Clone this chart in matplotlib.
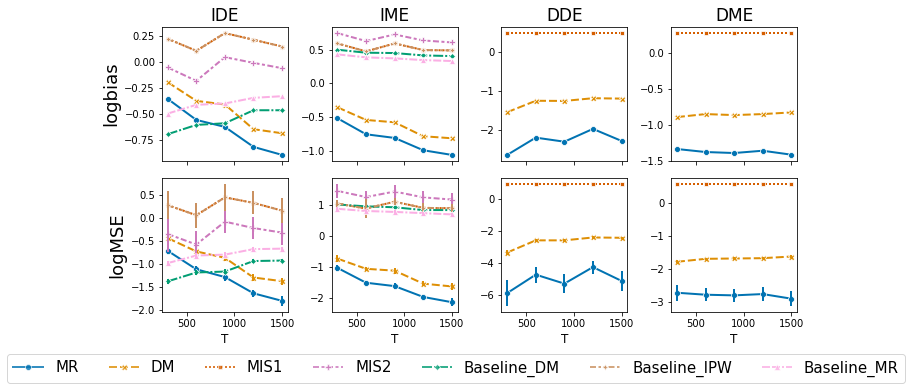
import matplotlib
matplotlib.use("Agg")
import matplotlib.pyplot as plt
from matplotlib.lines import Line2D

T = [300, 600, 900, 1200, 1500]
methods = ["MR", "DM", "MIS1", "MIS2", "Baseline_DM", "Baseline_IPW", "Baseline_MR"]
colors = ["#0173b2", "#de8f05", "#d55e00", "#cc78bc", "#029e73", "#ca9161", "#fbafe4"]
markers = ["o", "X", (4, 0, 45), "P", (4, 0, 0), (4, 1, 0), "^"]
dashes = [(), (4, 1.5), (1, 1), (3, 1.25, 1.5, 1.25), (5, 1, 1, 1),
          (3, 1.25, 1.25, 1.25, 1.25, 1.25), (4, 1, 4, 1, 1, 1)]

titles = ["IDE", "IME", "DDE", "DME"]
row_labels = ["logbias", "logMSE"]

# ---- logbias (means) ----
IDE_bias = {
    "MR": [-0.356, -0.558, -0.625, -0.817, -0.894],
    "DM": [-0.196, -0.375, -0.41, -0.647, -0.686],
    "MIS1": [0.221, 0.106, 0.276, 0.212, 0.147],
    "MIS2": [-0.054, -0.183, 0.045, -0.01, -0.061],
    "Baseline_DM": [-0.695, -0.606, -0.59, -0.465, -0.465],
    "Baseline_IPW": [0.221, 0.106, 0.276, 0.212, 0.147],
    "Baseline_MR": [-0.497, -0.413, -0.40, -0.346, -0.33],
}
IME_bias = {
    "MR": [-0.516, -0.753, -0.807, -0.989, -1.058],
    "DM": [-0.354, -0.541, -0.576, -0.782, -0.812],
    "MIS1": [0.59, 0.472, 0.59, 0.492, 0.487],
    "MIS2": [0.743, 0.625, 0.723, 0.634, 0.605],
    "Baseline_DM": [0.497, 0.453, 0.448, 0.413, 0.403],
    "Baseline_IPW": [0.59, 0.472, 0.59, 0.492, 0.487],
    "Baseline_MR": [0.428, 0.384, 0.369, 0.344, 0.33],
}
DDE_bias = {
    "MR": [-2.65, -2.205, -2.31, -1.98, -2.29],
    "DM": [-1.55, -1.256, -1.26, -1.19, -1.20],
    "MIS1": [0.487, 0.487, 0.487, 0.487, 0.487],
}
DME_bias = {
    "MR": [-1.333, -1.375, -1.389, -1.357, -1.412],
    "DM": [-0.889, -0.847, -0.861, -0.847, -0.824],
    "MIS1": [0.28, 0.28, 0.28, 0.28, 0.28],
}

# ---- logMSE (means) ----
IDE_mse = {
    "MR": [-0.717, -1.12, -1.29, -1.645, -1.81],
    "DM": [-0.44, -0.73, -0.87, -1.30, -1.38],
    "MIS1": [0.28, 0.06, 0.45, 0.33, 0.16],
    "MIS2": [-0.35, -0.58, -0.08, -0.22, -0.32],
    "Baseline_DM": [-1.384, -1.19, -1.17, -0.94, -0.93],
    "Baseline_IPW": [0.28, 0.06, 0.45, 0.33, 0.16],
    "Baseline_MR": [-0.985, -0.82, -0.80, -0.68, -0.67],
}
IME_mse = {
    "MR": [-1.04, -1.52, -1.63, -1.98, -2.15],
    "DM": [-0.74, -1.07, -1.13, -1.55, -1.64],
    "MIS1": [1.04, 0.88, 1.10, 0.90, 0.89],
    "MIS2": [1.45, 1.25, 1.43, 1.24, 1.17],
    "Baseline_DM": [1.01, 0.95, 0.92, 0.83, 0.83],
    "Baseline_IPW": [1.04, 0.88, 1.10, 0.90, 0.89],
    "Baseline_MR": [0.87, 0.80, 0.77, 0.73, 0.69],
}
DDE_mse = {
    "MR": [-5.86, -4.71, -5.27, -4.24, -5.10],
    "DM": [-3.33, -2.57, -2.57, -2.39, -2.41],
    "MIS1": [0.92, 0.92, 0.92, 0.92, 0.92],
}
DME_mse = {
    "MR": [-2.73, -2.79, -2.81, -2.77, -2.91],
    "DM": [-1.79, -1.70, -1.69, -1.68, -1.63],
    "MIS1": [0.56, 0.56, 0.56, 0.56, 0.56],
}

# ---- logMSE error bar half-widths ----
IDE_mse_err = {
    "MR": [0.08, 0.07, 0.08, 0.08, 0.11],
    "DM": [0.07, 0.06, 0.07, 0.07, 0.08],
    "MIS1": [0.30, 0.26, 0.29, 0.25, 0.28],
    "MIS2": [0.40, 0.30, 0.25, 0.24, 0.28],
    "Baseline_DM": [0.05, 0.05, 0.05, 0.05, 0.04],
    "Baseline_IPW": [0.31, 0.27, 0.29, 0.25, 0.28],
    "Baseline_MR": [0.05, 0.05, 0.05, 0.04, 0.04],
}
IME_mse_err = {
    "MR": [0.10, 0.06, 0.10, 0.07, 0.12],
    "DM": [0.12, 0.07, 0.10, 0.08, 0.12],
    "MIS1": [0.12, 0.30, 0.12, 0.15, 0.13],
    "MIS2": [0.22, 0.20, 0.22, 0.20, 0.20],
    "Baseline_DM": [0.05, 0.05, 0.05, 0.05, 0.05],
    "Baseline_IPW": [0.12, 0.30, 0.12, 0.15, 0.13],
    "Baseline_MR": [0.05, 0.05, 0.05, 0.05, 0.05],
}
DDE_mse_err = {
    "MR": [0.80, 0.50, 0.57, 0.40, 0.63],
    "DM": [0.18, 0.08, 0.08, 0.08, 0.08],
    "MIS1": [0.02, 0.02, 0.02, 0.02, 0.02],
}
DME_mse_err = {
    "MR": [0.25, 0.20, 0.20, 0.20, 0.22],
    "DM": [0.05, 0.04, 0.04, 0.04, 0.05],
    "MIS1": [0.01, 0.01, 0.01, 0.01, 0.01],
}

bias_panels = [IDE_bias, IME_bias, DDE_bias, DME_bias]
mse_panels = [IDE_mse, IME_mse, DDE_mse, DME_mse]
mse_errs = [IDE_mse_err, IME_mse_err, DDE_mse_err, DME_mse_err]

LW = 2.0

fig, axes = plt.subplots(2, 4, figsize=(912 / 72, 392 / 72), dpi=72, sharex=True)
fig.subplots_adjust(left=162 / 912, right=797 / 912, top=1 - 27 / 392,
                    bottom=1 - 312 / 392, wspace=44 / 126, hspace=17 / 134)


def draw(ax, data, errs=None):
    for i, m in enumerate(methods):
        if m not in data:
            continue
        y = data[m]
        ln, = ax.plot(T, y, color=colors[i], marker=markers[i], markersize=6,
                      markeredgecolor="w", markeredgewidth=0.75, lw=LW)
        if dashes[i]:
            ln.set_dashes(dashes[i])
        if errs is not None:
            ax.errorbar(T, y, yerr=errs[m], linestyle="", color=colors[i], lw=LW)


for c in range(4):
    draw(axes[0, c], bias_panels[c])
    draw(axes[1, c], mse_panels[c], mse_errs[c])
    axes[0, c].set_title(titles[c], fontsize=17)
    axes[1, c].set_xlabel("T", fontsize=12)
    for r in range(2):
        axes[r, c].tick_params(labelsize=10)
    axes[1, c].set_xticks([500, 1000, 1500])

axes[1, 0].set_yticks([0.5, 0.0, -0.5, -1.0, -1.5, -2.0])
axes[1, 2].set_yticks([0, -2, -4, -6])
axes[1, 3].set_yticks([0, -1, -2, -3])
axes[0, 3].set_ylim(-1.5, 0.365)
axes[0, 3].set_yticks([0.0, -0.5, -1.0, -1.5])

axes[0, 0].set_ylabel(row_labels[0], fontsize=18)
axes[1, 0].set_ylabel(row_labels[1], fontsize=18)

handles = []
for i, m in enumerate(methods):
    h = Line2D([], [], color=colors[i], marker=markers[i], markersize=6,
               markeredgecolor="w", markeredgewidth=0.75, lw=LW, alpha=0.8)
    if dashes[i]:
        h.set_dashes(dashes[i])
    handles.append(h)
fig.legend(handles, methods, loc="lower center", bbox_to_anchor=(0.5, 0.005),
           ncol=7, fontsize=15, frameon=True, columnspacing=2.0)

fig.savefig("out.png", dpi=72)
